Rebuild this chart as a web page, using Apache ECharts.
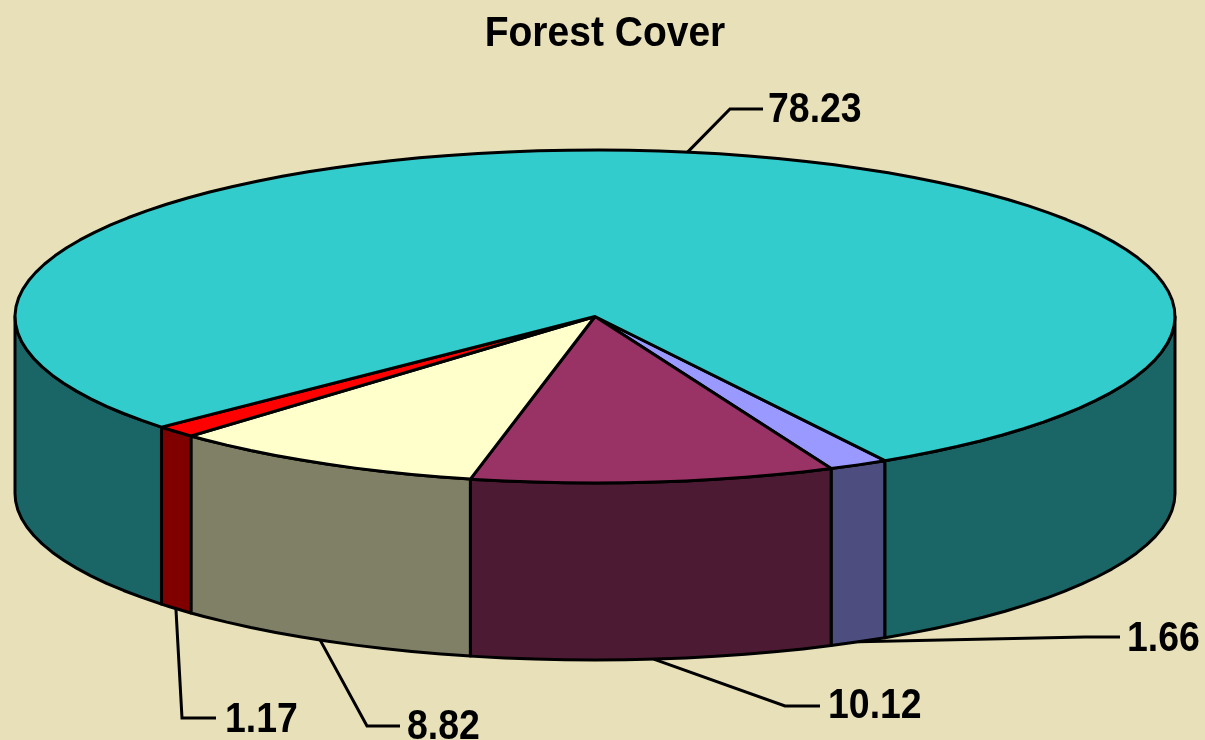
<!DOCTYPE html>
<html>
<head>
<meta charset="utf-8">
<title>Forest Cover</title>
<script src="https://cdn.jsdelivr.net/npm/echarts@6/dist/echarts.min.js"></script>
<style>
  html, body { margin: 0; padding: 0; background: #e8e0b8; overflow: hidden; }
  #chart { width: 1205px; height: 740px; }
</style>
</head>
<body>
<div id="chart"></div>
<script>
// slices in drawing order, clockwise from the lower right
const sliceValues = [1.66, 10.12, 8.82, 1.17, 78.23];
const topColors = ['#9999ff', '#993366', '#ffffcc', '#ff0000', '#33cccc'];
const sideColors = ['#4d4d80', '#4d1a33', '#808066', '#800000', '#1a6666'];

// leader line: bend and end of the line, then the left edge and middle of the text
const leaderLayout = [
  { bend: [1085, 637], end: [1120, 637], text: [1127, 639] },
  { bend: [785, 706], end: [820, 706], text: [828, 706] },
  { bend: [367, 726], end: [400, 726], text: [407, 727] },
  { bend: [182, 718], end: [216, 718], text: [225, 720] },
  { bend: [730, 109], end: [763, 109], text: [768, 110] }
];

const START_ANGLE = 60; // degrees, clockwise on screen from 3 o'clock
const DEPTH = 1.063;    // wall height in units of the ellipse's short radius
const STEP = 3;
const LINE = '#000';
const FONT = 'bold 39px "Liberation Sans", Arial, sans-serif';

const total = sliceValues.reduce((a, b) => a + b, 0);
let cursor = START_ANGLE;
const slices = sliceValues.map((v, i) => {
  const from = cursor;
  cursor += (v / total) * 360;
  return [from, cursor, i];
});

function rim(t, drop) {
  const r = t * Math.PI / 180;
  return [Math.cos(r), -Math.sin(r) - drop];
}

function arc(from, to, drop, api) {
  const pts = [];
  for (let t = from; t < to; t += STEP) {
    pts.push(api.coord(rim(t, drop)));
  }
  pts.push(api.coord(rim(to, drop)));
  return pts;
}

// the walls show only on the front half of the ellipse
function frontRanges(from, to) {
  const out = [];
  [[0, 180], [360, 540]].forEach(([lo, hi]) => {
    const a = Math.max(from, lo);
    const b = Math.min(to, hi);
    if (a < b) out.push([a, b]);
  });
  return out;
}

function renderSlice(params, api) {
  const from = api.value(0);
  const to = api.value(1);
  const i = api.value(2);
  const children = [];

  frontRanges(from, to).forEach(([a, b]) => {
    const upper = arc(a, b, 0, api);
    const lower = arc(a, b, DEPTH, api).reverse();
    children.push({
      type: 'polygon',
      shape: { points: upper.concat(lower) },
      style: { fill: sideColors[i], stroke: LINE, lineWidth: 3, lineJoin: 'round' }
    });
  });

  children.push({
    type: 'polygon',
    shape: { points: [api.coord([0, 0])].concat(arc(from, to, 0, api)) },
    style: { fill: topColors[i], stroke: LINE, lineWidth: 3, lineJoin: 'round' }
  });

  return { type: 'group', children };
}

function renderLeader(params, api) {
  const from = api.value(0);
  const to = api.value(1);
  const i = api.value(2);
  const mid = (from + to) / 2;
  const onFront = ((mid % 360) + 360) % 360 < 180;
  const layout = leaderLayout[i];
  const anchor = api.coord(rim(mid, onFront ? DEPTH : 0));

  return {
    type: 'group',
    children: [
      {
        type: 'polyline',
        shape: { points: [anchor, layout.bend, layout.end] },
        style: { fill: 'none', stroke: LINE, lineWidth: 3 }
      },
      {
        type: 'text',
        x: layout.text[0],
        y: layout.text[1],
        scaleX: 0.96,
        scaleY: 1.1,
        style: {
          text: sliceValues[i].toFixed(2),
          font: FONT,
          fill: LINE,
          align: 'left',
          verticalAlign: 'middle'
        }
      }
    ]
  };
}

const chart = echarts.init(document.getElementById('chart'));

chart.setOption({
  animation: false,
  backgroundColor: '#e8e0b8',
  grid: { left: 15, right: 30, top: 150, bottom: 80 },
  xAxis: { type: 'value', min: -1, max: 1, show: false },
  yAxis: { type: 'value', min: -1 - DEPTH, max: 1, show: false },
  graphic: [{
    type: 'text',
    x: 605,
    y: 34,
    scaleX: 1,
    scaleY: 1.1,
    style: {
      text: 'Forest Cover',
      font: FONT,
      fill: LINE,
      align: 'center',
      verticalAlign: 'middle'
    }
  }],
  series: [
    { type: 'custom', renderItem: renderSlice, data: slices, clip: false, silent: true },
    { type: 'custom', renderItem: renderLeader, data: slices, clip: false, silent: true }
  ]
});
</script>
</body>
</html>
